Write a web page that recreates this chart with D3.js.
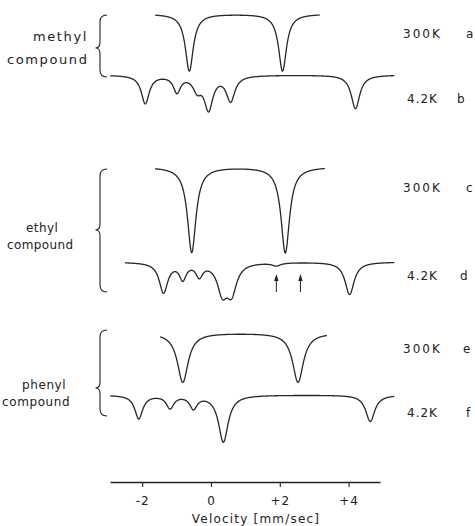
<!DOCTYPE html>
<html lang="en">
<head>
<meta charset="utf-8">
<title>Mossbauer spectra</title>
<script src="https://cdn.jsdelivr.net/npm/d3@7/dist/d3.min.js"></script>
<style>
  body { margin: 0; background: #fff; }
  svg text { font-family: "DejaVu Sans", sans-serif; fill: #222; }
</style>
</head>
<body>
<script>
// velocity axis
var velocityTicks = [-2, 0, 2, 4];
var tickLabels = ["-2", "0", "+2", "+4"];

// fitted lines of each spectrum: centre (mm/s), depth (% absorption), full width (mm/s)
var aCentres = [-0.63, 2.08];
var aDepths  = [9.5, 9.5];
var aWidths  = [0.28, 0.28];
var aRange   = [-1.62, 3.16];

var bCentres = [-1.91, -0.99, -0.40, -0.07, 0.57, 4.20];
var bDepths  = [4.7, 2.7, 2.2, 5.5, 4.2, 5.6];
var bWidths  = [0.28, 0.25, 0.30, 0.30, 0.30, 0.30];
var bRange   = [-2.93, 5.33];

var cCentres = [-0.56, 2.16];
var cDepths  = [14.2, 14.3];
var cWidths  = [0.30, 0.30];
var cRange   = [-1.63, 3.31];

var dCentres = [-1.38, -0.82, -0.34, 0.33, 0.60, 1.90, 4.03];
var dDepths  = [5.0, 2.6, 2.1, 4.7, 4.7, 0.5, 5.4];
var dWidths  = [0.30, 0.24, 0.24, 0.35, 0.35, 0.30, 0.32];
var dRange   = [-2.50, 5.33];

var eCentres = [-0.82, 2.53];
var eDepths  = [8.2, 8.2];
var eWidths  = [0.38, 0.38];
var eRange   = [-1.48, 3.37];

var fCentres = [-2.10, -1.19, -0.51, 0.36, 4.63];
var fDepths  = [3.9, 2.1, 2.1, 7.8, 4.4];
var fWidths  = [0.28, 0.26, 0.26, 0.34, 0.32];
var fRange   = [-2.93, 5.33];

var arrowVelocities = [1.9, 2.6];   // marked positions in spectrum d

var temperatures = ["300K", "4.2K", "300K", "4.2K", "300K", "4.2K"];
var panelLetters = ["a", "b", "c", "d", "e", "f"];
var compounds = [["methyl", "compound"], ["ethyl", "compound"], ["phenyl", "compound"]];

var w = 475, h = 526;
var svg = d3.select("body").append("svg")
    .attr("width", w)
    .attr("height", h);

var x = d3.scaleLinear().domain([-2.936, 4.913]).range([110, 380]);
var pxPerPercent = 6;

var spectra = [
  {c: aCentres, d: aDepths, g: aWidths, r: aRange, base: 14,  labelY: 33,  letterX: 466},
  {c: bCentres, d: bDepths, g: bWidths, r: bRange, base: 75,  labelY: 98,  letterX: 457},
  {c: cCentres, d: cDepths, g: cWidths, r: cRange, base: 167, labelY: 187, letterX: 466},
  {c: dCentres, d: dDepths, g: dWidths, r: dRange, base: 262, labelY: 275, letterX: 460},
  {c: eCentres, d: eDepths, g: eWidths, r: eRange, base: 333, labelY: 348, letterX: 463},
  {c: fCentres, d: fDepths, g: fWidths, r: fRange, base: 395, labelY: 412, letterX: 466}
];

// sum of lorentzian lines
function absorption(s, v) {
  var sum = 0;
  for (var i = 0; i < s.c.length; i++) {
    var t = (v - s.c[i]) / (s.g[i] / 2);
    sum += s.d[i] / (1 + t * t);
  }
  return sum;
}

var line = d3.line().curve(d3.curveLinear);

spectra.forEach(function(s, i) {
  var y = d3.scaleLinear().domain([0, 10]).range([s.base, s.base + 10 * pxPerPercent]);
  var vs = d3.range(s.r[0], s.r[1], 0.01).concat([s.r[1]]);
  svg.append("path")
    .attr("d", line(vs.map(function(v) { return [x(v), y(absorption(s, v))]; })))
    .attr("fill", "none")
    .attr("stroke", "#262626")
    .attr("stroke-width", 1.3);

  var is300 = temperatures[i] == "300K";
  svg.append("text")
    .attr("x", is300 ? 403 : 407).attr("y", s.labelY + 4.5)
    .attr("font-size", "12px")
    .attr("letter-spacing", is300 ? "2px" : "1px")
    .text(temperatures[i]);
  svg.append("text")
    .attr("x", s.letterX).attr("y", s.labelY + 4.5)
    .attr("font-size", "12px")
    .text(panelLetters[i]);
});

// arrows in spectrum d
arrowVelocities.forEach(function(v) {
  var ax = x(v);
  svg.append("line")
    .attr("x1", ax).attr("x2", ax)
    .attr("y1", 292).attr("y2", 279)
    .attr("stroke", "#222").attr("stroke-width", 1);
  svg.append("path")
    .attr("d", "M" + ax + ",274 L" + (ax - 2.2) + ",281 L" + (ax + 2.2) + ",281 Z")
    .attr("fill", "#222");
});

// braces and compound names
var braces = [
  {top: 15, mid: 48, bottom: 77, names: compounds[0], nameX: [33, 7], nameY: [36, 59], size: 13, spacing: 1.6},
  {top: 169, mid: 230, bottom: 292, names: compounds[1], nameX: [26, 7], nameY: [227, 244], size: 12, spacing: 0.4},
  {top: 330, mid: 388, bottom: 416, names: compounds[2], nameX: [22, 2], nameY: [384, 401], size: 12, spacing: 0.6}
];

braces.forEach(function(b) {
  var sx = 100, tip = 95.5, ex = 107;
  var p = d3.path();
  p.moveTo(ex, b.top);
  p.quadraticCurveTo(sx, b.top, sx, b.top + 7);
  p.lineTo(sx, b.mid - 6);
  p.quadraticCurveTo(sx, b.mid, tip, b.mid);
  p.quadraticCurveTo(sx, b.mid, sx, b.mid + 6);
  p.lineTo(sx, b.bottom - 7);
  p.quadraticCurveTo(sx, b.bottom, ex, b.bottom);
  svg.append("path")
    .attr("d", p.toString())
    .attr("fill", "none")
    .attr("stroke", "#222")
    .attr("stroke-width", 1.1);

  b.names.forEach(function(n, k) {
    svg.append("text")
      .attr("x", b.nameX[k]).attr("y", b.nameY[k] + 4.5)
      .attr("font-size", b.size + "px")
      .attr("letter-spacing", b.spacing + "px")
      .text(n);
  });
});

// velocity axis
var axis = d3.axisBottom(x)
  .tickValues(velocityTicks)
  .tickSizeInner(5)
  .tickSizeOuter(0)
  .tickPadding(9)
  .tickFormat(function(d, i) { return tickLabels[i]; });

var gx = svg.append("g")
  .attr("transform", "translate(0,482)")
  .call(axis);
gx.select(".domain").attr("stroke", "#222").attr("stroke-width", 1.4);
gx.selectAll(".tick line").attr("stroke", "#222").attr("stroke-width", 1.1);
gx.selectAll(".tick text")
  .attr("font-family", "DejaVu Sans, sans-serif")
  .attr("font-size", "12px")
  .attr("letter-spacing", "1px")
  .attr("fill", "#222");

svg.append("text")
  .attr("x", 256).attr("y", 523)
  .attr("text-anchor", "middle")
  .attr("font-size", "12px")
  .attr("letter-spacing", "1.2px")
  .text("Velocity [mm/sec]");
</script>
</body>
</html>
